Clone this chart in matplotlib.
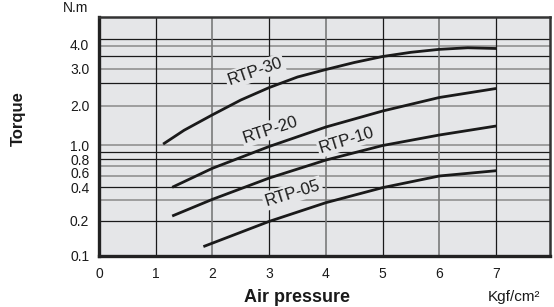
import numpy as np
import matplotlib
matplotlib.use("Agg")
import matplotlib.pyplot as plt

plt.rcParams['font.family'] = ['Liberation Sans', 'DejaVu Sans']

# ---- data ----
pressure_ticks = [0, 1, 2, 3, 4, 5, 6, 7]
torque_ticks = [0.1, 0.2, 0.4, 0.6, 0.8, 1.0, 2.0, 3.0, 4.0]
torque_tick_labels = ["0.1", "0.2", "0.4", "0.6", "0.8", "1.0", "2.0", "3.0", "4.0"]

rtp30_x = [1.13, 1.5, 2.0, 2.5, 3.0, 3.5, 4.0, 4.5, 5.0, 5.5, 6.0, 6.5, 7.0]
rtp30_y = [1.03, 1.38, 1.77, 2.154, 2.49, 2.776, 2.978, 3.256, 3.504, 3.678, 3.80, 3.864, 3.835]

rtp20_x = [1.29, 2.0, 3.0, 4.0, 5.0, 6.0, 7.0]
rtp20_y = [0.40, 0.664, 0.983, 1.462, 1.866, 2.222, 2.465]

rtp10_x = [1.29, 2.0, 3.0, 4.0, 5.0, 6.0, 7.0]
rtp10_y = [0.228, 0.328, 0.525, 0.789, 0.997, 1.26, 1.487]

rtp05_x = [1.84, 3.0, 4.0, 5.0, 6.0, 7.0]
rtp05_y = [0.126, 0.198, 0.308, 0.398, 0.553, 0.627]

series_names = ["RTP-30", "RTP-20", "RTP-10", "RTP-05"]

# horizontal grid (value, dark?)
hgrid_vals = [4.21, 3.93, 3.51, 3.0, 2.61, 2.0, 1.0, 0.9, 0.8, 0.70, 0.557, 0.4, 0.324, 0.2]
hgrid_dark = [True, False, True, False, True, False, False, True, True, False, False, True, False, True]

# ---- non-uniform vertical scale of the catalogue chart ----
scale_vals = [0.1, 0.2, 0.4, 0.6, 0.8, 1.0, 2.0, 3.0, 4.0, 6.0]
scale_pos = [0.0, 35.0, 68.4, 83.2, 96.4, 110.4, 150.0, 187.0, 211.2, 259.6]

def fwd(v):
    return np.interp(v, scale_vals, scale_pos)

def inv(p):
    return np.interp(p, scale_pos, scale_vals)

W, H = 554, 307
fig = plt.figure(figsize=(W / 100, H / 100), dpi=100)
bg = '#e5e6e8'
ax = fig.add_axes([99 / W, 1 - 255.7 / H, (550 - 99) / W, (255.7 - 16.7) / H])
ax.set_facecolor(bg)
ax.set_yscale('function', functions=(fwd, inv))
ax.set_xlim(0, 7.95)
ax.set_ylim(0.1, inv(239.0))

for v, d in zip(hgrid_vals, hgrid_dark):
    ax.axhline(v, color='#1a1a1a' if d else '#8a8a8a', lw=0.9 if d else 1.1, zorder=1)
for x in range(1, 8):
    ax.axvline(x, color='#1a1a1a' if x % 2 else '#7a7a7a', lw=0.9 if x % 2 else 1.2, zorder=1)

for xs, ys in [(rtp30_x, rtp30_y), (rtp20_x, rtp20_y), (rtp10_x, rtp10_y), (rtp05_x, rtp05_y)]:
    ax.plot(xs, ys, color='#1a1a1a', lw=2.0, solid_capstyle='butt', solid_joinstyle='round', zorder=3)

label_pos = [(2.75, 2.92, 19), (3.03, 1.39, 18), (4.37, 1.13, 17), (3.41, 0.364, 17)]
for name, (lx, ly, rot) in zip(series_names, label_pos):
    ax.text(lx, ly, name, rotation=rot, ha='center', va='center', fontsize=12,
            color='#1a1a1a', rotation_mode='anchor', zorder=4,
            bbox=dict(facecolor=bg, edgecolor='none', pad=1.5))

ax.set_xticks(pressure_ticks)
ax.set_xticklabels([str(t) for t in pressure_ticks])
ax.set_yticks(torque_ticks)
ax.set_yticklabels(torque_tick_labels)
ax.minorticks_off()
ax.tick_params(axis='both', length=0, labelsize=10, colors='#1a1a1a')
ax.tick_params(axis='x', pad=8)
ax.tick_params(axis='y', pad=7)

for side in ['left', 'bottom']:
    ax.spines[side].set_linewidth(2.4)
    ax.spines[side].set_color('#222222')
for side in ['top', 'right']:
    ax.spines[side].set_linewidth(1.8)
    ax.spines[side].set_color('#333333')

fig.text(76 / W, 1 - 8 / H, "N.m", ha='center', va='center', fontsize=10, color='#1a1a1a')
fig.text(18 / W, 1 - 119 / H, "Torque", rotation=90, ha='center', va='center',
         fontsize=12, fontweight='bold', color='#1a1a1a')
fig.text(297 / W, 1 - 297 / H, "Air pressure", ha='center', va='center',
         fontsize=13, fontweight='bold', color='#1a1a1a')
fig.text(514 / W, 1 - 297 / H, "Kgf/cm²", ha='center', va='center', fontsize=11, color='#1a1a1a')

fig.savefig("out.png", dpi=100, facecolor='white')
